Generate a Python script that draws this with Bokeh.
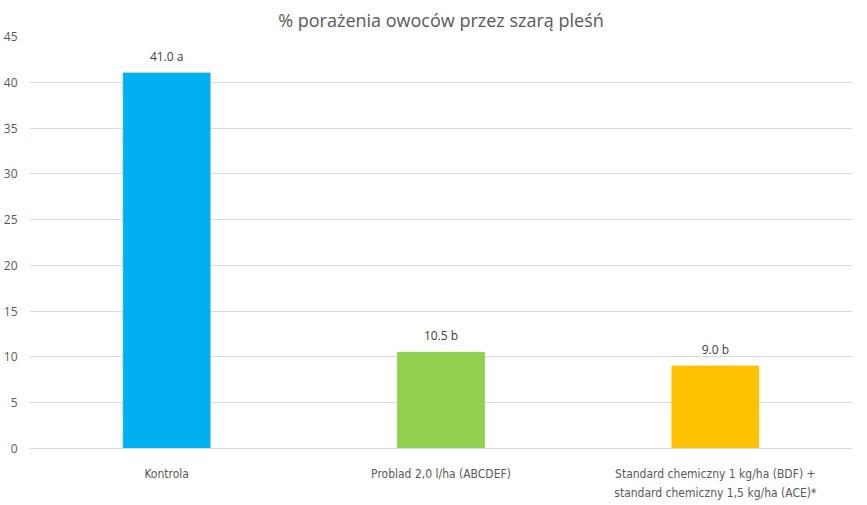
from bokeh.plotting import figure
from bokeh.models import ColumnDataSource, Range1d, FixedTicker, LabelSet, CategoricalAxis, FactorRange
from bokeh.core.properties import value
from bokeh.embed import file_html
from bokeh.resources import INLINE

categories = ["Kontrola", "Problad 2,0 l/ha (ABCDEF)", "Standard chemiczny 1 kg/ha (BDF) +"]
categories_line2 = [" ", "  ", "standard chemiczny 1,5 kg/ha (ACE)*"]
values = [41.0, 10.5, 9.0]
letters = ["a", "b", "b"]
colors = ["#00B0F0", "#92D050", "#FFC000"]
y_ticks = [0, 5, 10, 15, 20, 25, 30, 35, 40, 45]

labels = [f"{v:.1f} {l}" for v, l in zip(values, letters)]
src = ColumnDataSource(dict(cat=categories, val=values, color=colors, label=labels))

p = figure(x_range=FactorRange(*categories, range_padding=0), y_range=Range1d(0, 45),
           width=851, height=489, output_backend="svg", toolbar_location=None,
           min_border_left=24, min_border_right=4, min_border_top=2, min_border_bottom=0)
p.extra_x_ranges = {"line2": FactorRange(*categories_line2, range_padding=0)}
p.frame_height = 412
p.frame_width = 823

p.title.text = "% porażenia owoców przez szarą pleśń"
p.title.align = "center"
p.title.text_font = "Open Sans"
p.title.text_font_size = "18px"
p.title.text_font_style = "normal"
p.title.text_color = "#595959"
p.title.standoff = 10

p.vbar(x="cat", top="val", width=0.316, color="color", source=src)
p.add_layout(LabelSet(x="cat", y="val", text="label", source=src, text_align="center",
                      text_baseline="bottom", y_offset=8, text_font=value("Open Sans"),
                      text_font_size=value("12px"), text_color=value("#404040")))

p.outline_line_color = None
p.xgrid.grid_line_color = None
p.ygrid.grid_line_color = "#D9D9D9"
p.yaxis.ticker = FixedTicker(ticks=y_ticks)
p.yaxis.axis_line_color = None
p.yaxis.major_tick_line_color = None
p.yaxis.minor_tick_line_color = None
p.yaxis.major_label_text_font = "Open Sans"
p.yaxis.major_label_text_font_size = "12px"
p.yaxis.major_label_text_color = "#595959"
p.yaxis.major_label_standoff = 6

xa = p.xaxis[0]
xa.axis_line_color = "#D9D9D9"
xa.major_tick_line_color = None
xa.major_label_text_font = "DejaVu Sans Condensed"
xa.major_label_text_font_size = "12px"
xa.major_label_text_color = "#595959"
xa.major_label_standoff = 12

xa2 = CategoricalAxis(x_range_name="line2", axis_line_color=None, major_tick_line_color=None,
                      minor_tick_line_color=None,
                      major_label_text_font="DejaVu Sans Condensed",
                      major_label_text_font_size="12px",
                      major_label_text_color="#595959",
                      major_label_standoff=-4)
p.add_layout(xa2, "below")

open("out.html", "w").write(file_html(p, INLINE))
